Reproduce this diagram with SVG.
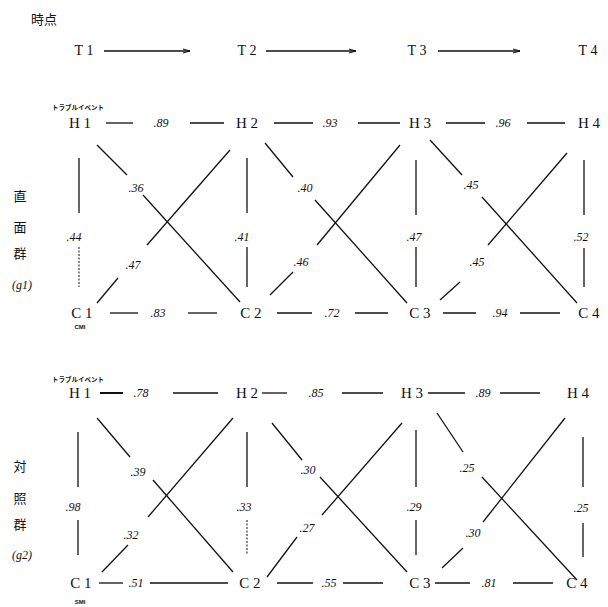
<svg xmlns="http://www.w3.org/2000/svg" width="608" height="607" viewBox="0 0 608 607">
<defs>
<style>
.n{font-family:"Liberation Serif",serif;font-size:15px;fill:#111;text-anchor:middle}
.t{font-family:"Liberation Serif",serif;font-size:14px;fill:#111;text-anchor:middle}
.v{font-family:"Liberation Serif",serif;font-style:italic;font-size:12px;fill:#111;text-anchor:middle}
.k{font-family:"Noto Sans CJK JP",sans-serif;font-size:13px;fill:#111;text-anchor:middle}
.s{font-family:"Noto Sans CJK JP",sans-serif;font-size:6.5px;font-weight:bold;fill:#111}
.m{font-family:"Liberation Sans",sans-serif;font-size:6px;font-weight:bold;fill:#111;text-anchor:middle}
.ln line{stroke:#111;stroke-width:1.3;fill:none}
.ln .d{stroke-dasharray:2 1.5;stroke-width:1}
</style>
<marker id="ah" markerWidth="8" markerHeight="6" refX="7" refY="3" orient="auto" markerUnits="userSpaceOnUse">
<path d="M0,1 L7,3 L0,5" fill="none" stroke="#111" stroke-width="1"/>
</marker>
</defs>
<rect width="608" height="607" fill="#fff"/>

<g id="title"><text class="k" x="44" y="24">時点</text></g>
<g id="T1"><text class="t" x="84" y="55">T 1</text></g>
<g id="T2"><text class="t" x="247" y="55">T 2</text></g>
<g id="T3"><text class="t" x="417" y="55">T 3</text></g>
<g id="T4"><text class="t" x="588" y="55">T 4</text></g>

<!-- group 1 -->
<g id="g1-label">
<text class="s" x="52" y="110">トラブルイベント</text>
<text class="k" x="20" y="201">直</text>
<text class="k" x="20" y="232">面</text>
<text class="k" x="20" y="258">群</text>
<text class="v" x="22" y="289">(g1)</text>
</g>
<g id="H1a"><text class="n" x="80" y="128">H 1</text></g>
<g id="H2a"><text class="n" x="247" y="128">H 2</text></g>
<g id="H3a"><text class="n" x="420" y="128">H 3</text></g>
<g id="H4a"><text class="n" x="589" y="128">H 4</text></g>
<g id="C1a"><text class="n" x="82" y="318">C 1</text><text class="m" x="80" y="329">CMI</text></g>
<g id="C2a"><text class="n" x="251" y="318">C 2</text></g>
<g id="C3a"><text class="n" x="420" y="318">C 3</text></g>
<g id="C4a"><text class="n" x="589" y="318">C 4</text></g>

<!-- group 2 -->
<g id="g2-label">
<text class="s" x="52" y="382">トラブルイベント</text>
<text class="k" x="20" y="471">対</text>
<text class="k" x="20" y="503">照</text>
<text class="k" x="20" y="529">群</text>
<text class="v" x="22" y="559">(g2)</text>
</g>
<g id="H1b"><text class="n" x="80" y="398">H 1</text></g>
<g id="H2b"><text class="n" x="247" y="398">H 2</text></g>
<g id="H3b"><text class="n" x="412" y="398">H 3</text></g>
<g id="H4b"><text class="n" x="578" y="398">H 4</text></g>
<g id="C1b"><text class="n" x="81" y="588">C 1</text><text class="m" x="80" y="604">SMI</text></g>
<g id="C2b"><text class="n" x="250" y="588">C 2</text></g>
<g id="C3b"><text class="n" x="420" y="588">C 3</text></g>
<g id="C4b"><text class="n" x="577" y="588">C 4</text></g>

<g id="connectors" class="ln">
<!-- time arrows -->
<line x1="104" y1="51" x2="190" y2="51" marker-end="url(#ah)"/>
<line x1="266" y1="51" x2="356" y2="51" marker-end="url(#ah)"/>
<line x1="438" y1="51" x2="520" y2="51" marker-end="url(#ah)"/>

<!-- group 1 horizontals H -->
<line x1="106" y1="123" x2="133" y2="123"/>
<line x1="190" y1="123" x2="224" y2="123"/>
<line x1="274" y1="123" x2="313" y2="123"/>
<line x1="358" y1="123" x2="400" y2="123"/>
<line x1="446" y1="123" x2="485" y2="123"/>
<line x1="527" y1="123" x2="565" y2="123"/>
<!-- group 1 horizontals C -->
<line x1="110" y1="313" x2="138" y2="313"/>
<line x1="188" y1="313" x2="217" y2="313"/>
<line x1="277" y1="313" x2="312" y2="313"/>
<line x1="355" y1="313" x2="388" y2="313"/>
<line x1="443" y1="313" x2="476" y2="313"/>
<line x1="520" y1="313" x2="560" y2="313"/>
<!-- group 1 verticals -->
<line x1="79" y1="158" x2="79" y2="213"/>
<line class="d" x1="79" y1="247" x2="79" y2="287"/>
<line x1="247" y1="158" x2="247" y2="213"/>
<line x1="247" y1="247" x2="247" y2="287"/>
<line x1="416" y1="160" x2="416" y2="215"/>
<line x1="416" y1="247" x2="416" y2="287"/>
<line x1="584" y1="160" x2="584" y2="215"/>
<line x1="584" y1="248" x2="584" y2="287"/>
<!-- group 1 diagonals -->
<line x1="97" y1="145" x2="127" y2="175"/>
<line x1="143" y1="195" x2="240" y2="302"/>
<line x1="97" y1="303" x2="118" y2="278"/>
<line x1="147" y1="245" x2="230" y2="150"/>
<line x1="265" y1="143" x2="293" y2="177"/>
<line x1="315" y1="200" x2="407" y2="303"/>
<line x1="270" y1="295" x2="293" y2="272"/>
<line x1="317" y1="245" x2="400" y2="145"/>
<line x1="430" y1="140" x2="462" y2="175"/>
<line x1="482" y1="197" x2="577" y2="303"/>
<line x1="440" y1="300" x2="460" y2="282"/>
<line x1="488" y1="245" x2="567" y2="153"/>

<!-- group 2 horizontals H -->
<line x1="100" y1="393" x2="123" y2="393" style="stroke-width:2"/>
<line x1="173" y1="393" x2="218" y2="393"/>
<line x1="262" y1="393" x2="287" y2="393"/>
<line x1="342" y1="393" x2="383" y2="393"/>
<line x1="428" y1="393" x2="465" y2="393"/>
<line x1="500" y1="393" x2="540" y2="393"/>
<!-- group 2 horizontals C -->
<line x1="99" y1="583" x2="123" y2="583"/>
<line x1="150" y1="583" x2="228" y2="583"/>
<line x1="277" y1="583" x2="313" y2="583"/>
<line x1="343" y1="583" x2="383" y2="583"/>
<line x1="435" y1="583" x2="470" y2="583"/>
<line x1="513" y1="583" x2="553" y2="583"/>
<!-- group 2 verticals -->
<line x1="78" y1="432" x2="78" y2="487"/>
<line x1="78" y1="520" x2="78" y2="555"/>
<line x1="247" y1="432" x2="247" y2="487"/>
<line class="d" x1="247" y1="520" x2="247" y2="555"/>
<line x1="416" y1="430" x2="416" y2="487"/>
<line x1="416" y1="520" x2="416" y2="555"/>
<line x1="583" y1="437" x2="583" y2="487"/>
<line x1="583" y1="523" x2="583" y2="557"/>
<!-- group 2 diagonals -->
<line x1="97" y1="418" x2="130" y2="457"/>
<line x1="153" y1="480" x2="233" y2="572"/>
<line x1="102" y1="572" x2="128" y2="545"/>
<line x1="148" y1="517" x2="233" y2="418"/>
<line x1="272" y1="423" x2="302" y2="460"/>
<line x1="320" y1="477" x2="407" y2="572"/>
<line x1="267" y1="577" x2="297" y2="537"/>
<line x1="322" y1="515" x2="402" y2="423"/>
<line x1="437" y1="413" x2="463" y2="452"/>
<line x1="482" y1="477" x2="577" y2="580"/>
<line x1="442" y1="568" x2="463" y2="548"/>
<line x1="483" y1="522" x2="565" y2="418"/>
</g>

<g id="values">
<!-- group 1 -->
<text class="v" x="161" y="127">.89</text>
<text class="v" x="330" y="127">.93</text>
<text class="v" x="503" y="127">.96</text>
<text class="v" x="158" y="317">.83</text>
<text class="v" x="332" y="317">.72</text>
<text class="v" x="500" y="317">.94</text>
<text class="v" x="74" y="241">.44</text>
<text class="v" x="242" y="241">.41</text>
<text class="v" x="414" y="241">.47</text>
<text class="v" x="581" y="241">.52</text>
<text class="v" x="136" y="192">.36</text>
<text class="v" x="305" y="192">.40</text>
<text class="v" x="471" y="189">.45</text>
<text class="v" x="133" y="269">.47</text>
<text class="v" x="301" y="266">.46</text>
<text class="v" x="477" y="266">.45</text>
<!-- group 2 -->
<text class="v" x="141" y="397">.78</text>
<text class="v" x="316" y="397">.85</text>
<text class="v" x="483" y="397">.89</text>
<text class="v" x="136" y="587">.51</text>
<text class="v" x="329" y="587">.55</text>
<text class="v" x="489" y="587">.81</text>
<text class="v" x="73" y="511">.98</text>
<text class="v" x="244" y="511">.33</text>
<text class="v" x="414" y="511">.29</text>
<text class="v" x="581" y="512">.25</text>
<text class="v" x="138" y="476">.39</text>
<text class="v" x="308" y="474">.30</text>
<text class="v" x="467" y="472">.25</text>
<text class="v" x="131" y="539">.32</text>
<text class="v" x="307" y="532">.27</text>
<text class="v" x="473" y="537">.30</text>
</g>
</svg>
